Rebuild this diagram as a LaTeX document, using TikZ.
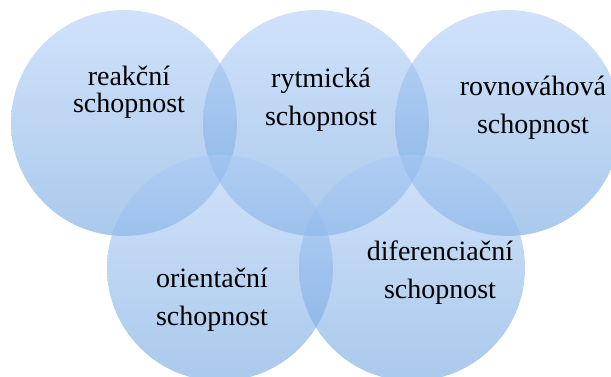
\documentclass[tikz,border=0pt]{standalone}
\usepackage{fontspec}
\setmainfont{Liberation Serif}
\usetikzlibrary{positioning}

\definecolor{ringtop}{RGB}{170,202,246}
\definecolor{ringbot}{RGB}{100,157,220}

\begin{document}
\begin{tikzpicture}[x=1pt,y=1pt, ring/.style={circle,draw=none,inner sep=0pt,minimum size=226pt,top color=ringtop,bottom color=ringbot,fill opacity=.55}, skill/.style={align=center,anchor=base,inner sep=0pt,font=\fontsize{28}{38}\selectfont}]
\useasboundingbox (0,0) rectangle (611,376);
% five overlapping rings, top row first
\node[ring] (reak) at (124,253) {};
\node[ring] (rytm) at (316,253) {};
\node[ring] (rovn) at (508,253) {};
\node[ring] (orie) at (220,108) {};
\node[ring] (dife) at (412,108) {};
% labels (base = last line)
\node[skill,font=\fontsize{28}{27}\selectfont] (treak) at (129,264) {reakční\\schopnost};
\node[skill] (trytm) at (321,251) {rytmická\\schopnost};
\node[skill] (trovn) at (533,243) {rovnováhová\\schopnost};
\node[skill] (torie) at (212,51) {orientační\\schopnost};
\node[skill] (tdife) at (440,78) {diferenciační\\schopnost};
\end{tikzpicture}
\end{document}
